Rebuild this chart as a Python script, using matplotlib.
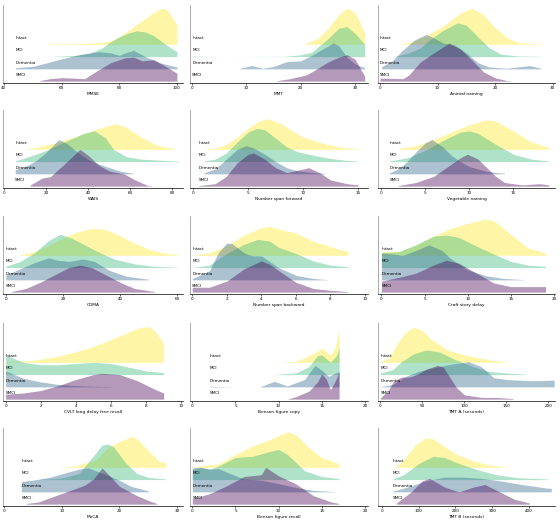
import matplotlib.pyplot as plt

groups = ["Intact", "MCI", "Dementia", "SMCI"]
colors = ["#fde725", "#35b779", "#31688e", "#440154"]

# ridge heights, (score, height) pairs, 1 unit = gap between rows
mmse_intact = [(55, 0.03), (65, 0.05), (72, 0.12), (77, 0.25), (80, 0.6), (83, 1.1), (86, 1.6), (89, 2.1), (92, 2.6), (95, 2.95), (97, 2.7), (100, 1.6)]
mmse_mci = [(57, 0.02), (65, 0.1), (70, 0.3), (74, 0.7), (77, 1.2), (80, 1.6), (83, 1.9), (86, 2.1), (89, 2.0), (92, 1.7), (96, 1.0), (100, 0.4)]
mmse_dem = [(44, 0.1), (50, 0.2), (55, 0.5), (59, 0.75), (66, 1.15), (73, 1.4), (77, 1.3), (80, 1.1), (82, 1.3), (85, 1.5), (89, 1.0), (94, 0.5), (100, 0.15)]
mmse_smci = [(52.5, 0.05), (56, 0.2), (60, 0.28), (64, 0.25), (68, 0.2), (72, 0.8), (77, 1.5), (82, 1.9), (85, 1.95), (88, 1.65), (92, 1.75), (95, 1.35), (100, 0.65)]

mmt_intact = [(20.8, 0.05), (23.2, 0.5), (25, 1.3), (26.9, 2.35), (28.5, 2.95), (30, 2.6), (30.9, 1.8), (31.8, 0.9)]
mmt_mci = [(0, 0.04), (2.5, 0.02), (6, 0.0), (17, 0.02), (20, 0.15), (22, 0.35), (25, 1.45), (27, 2.3), (28.5, 2.45), (30, 1.9), (31.8, 1.0)]
mmt_dem = [(8.8, 0.05), (11, 0.27), (13, 0.05), (15, 0.2), (17.5, 0.6), (20, 0.65), (22, 1.1), (24, 1.6), (26, 2.1), (27, 1.9), (28.5, 0.95), (30, 0.4), (31.8, 0.1)]
mmt_smci = [(15.5, 0.03), (18, 0.2), (21, 0.5), (23, 1.0), (25, 1.55), (27, 1.95), (28.5, 2.15), (30, 1.8), (31, 1.0), (31.8, 0.4)]

animal_intact = [(3.5, 0.02), (5, 0.15), (8, 0.7), (11, 1.5), (14, 2.55), (16, 2.95), (18, 2.4), (20, 1.35), (22, 0.55), (24, 0.15), (28, 0.0)]
animal_mci = [(2.6, 0.02), (5, 0.3), (7, 0.7), (9, 1.5), (11, 2.15), (13.5, 2.75), (15, 2.55), (17, 1.6), (19, 0.7), (21, 0.2), (24, 0.05), (28, 0.02)]
animal_dem = [(0.3, 0.2), (2, 0.6), (4, 1.55), (6, 2.35), (8, 2.8), (9, 2.6), (11, 2.1), (13, 1.95), (15, 1.3), (17, 0.5), (19, 0.15), (22, 0.05), (26, 0.27), (28, 0.05)]
animal_smci = [(0, 0.25), (4, 0.2), (5, 0.5), (7, 1.55), (9, 2.2), (12, 3.1), (14, 2.6), (16, 1.7), (18, 0.75), (20, 0.27), (22, 0.05), (23, 0.0)]

wais_intact = [(10, 0.02), (15, 0.15), (25, 0.55), (35, 1.1), (45, 1.7), (53, 2.1), (58, 1.8), (65, 1.0), (72, 0.37), (82, 0.0)]
wais_mci = [(5.3, 0.05), (10, 0.3), (20, 0.9), (30, 1.7), (38, 2.3), (43, 2.5), (48, 1.95), (52, 1.0), (58, 0.4), (65, 0.2), (83, 0.03)]
wais_dem = [(5.3, 0.35), (10, 0.6), (15, 1.05), (20, 1.75), (26, 2.8), (30, 2.45), (35, 1.75), (40, 1.15), (45, 0.8), (55, 0.23), (61, 0.05)]
wais_smci = [(12.5, 0.1), (18, 0.65), (22, 0.77), (28, 1.7), (33, 2.5), (36, 3.0), (40, 2.5), (45, 1.7), (50, 1.23), (57, 1.0), (62, 0.53), (68, 0.07), (71, 0.0)]

nsf_intact = [(1, 0.02), (2, 0.1), (3, 0.4), (4, 1.0), (5, 1.7), (6, 2.3), (6.8, 2.5), (8, 2.1), (9, 1.5), (10, 1.0), (11, 0.7), (12, 0.45), (13, 0.25), (14, 0.1), (15, 0.05)]
nsf_mci = [(1, 0.05), (2, 0.2), (3, 0.7), (4, 1.6), (5, 2.4), (5.8, 2.7), (6.5, 2.6), (7.5, 1.9), (8.5, 1.2), (9.5, 0.8), (11, 0.5), (12.5, 0.25), (14, 0.1), (15, 0.03)]
nsf_dem = [(1, 0.1), (2, 0.4), (3, 1.2), (4, 2.0), (4.8, 2.3), (5.5, 2.1), (6.5, 1.6), (7.5, 1.0), (8.5, 0.5), (9.5, 0.25), (11, 0.1), (12, 0.05)]
nsf_smci = [(0.5, 0.05), (2, 0.2), (3, 0.8), (4, 1.9), (5, 2.6), (5.5, 2.7), (6.5, 2.2), (7.5, 1.5), (8.5, 1.1), (9.5, 1.3), (10.5, 1.5), (11.5, 1.1), (12.5, 0.5), (14, 0.2), (15, 0.1)]

veg_intact = [(2, 0.05), (4, 0.3), (6, 0.8), (8, 1.4), (10, 2.0), (12, 2.4), (13, 2.3), (15, 1.5), (17, 0.6), (19, 0.15)]
veg_mci = [(1, 0.05), (3, 0.3), (5, 0.9), (7, 1.7), (9, 2.4), (10, 2.5), (11, 2.3), (13, 1.4), (15, 0.6), (17, 0.2), (19, 0.05)]
veg_dem = [(1, 0.1), (2, 0.4), (3, 1.0), (4, 1.8), (5, 2.5), (5.8, 2.8), (7, 2.2), (8, 1.5), (9, 1.0), (10, 0.6), (12, 0.2), (14, 0.05)]
veg_smci = [(2, 0.05), (4, 0.3), (6, 0.8), (7, 1.3), (8, 1.8), (9, 2.3), (9.8, 2.6), (11, 2.2), (12, 1.5), (13, 0.8), (14, 0.3), (16, 0.1), (18, 0.2), (19, 0.1)]

cdma_intact = [(5, 0.05), (10, 0.3), (15, 0.8), (20, 1.4), (25, 1.9), (30, 2.2), (35, 2.1), (40, 1.6), (45, 1.0), (50, 0.5), (55, 0.2), (60, 0.05)]
cdma_mci = [(0, 0.1), (5, 0.5), (10, 1.2), (15, 2.2), (19, 2.7), (23, 2.4), (28, 1.8), (33, 1.2), (38, 0.7), (45, 0.3), (52, 0.1), (60, 0.03)]
cdma_dem = [(0, 0.4), (5, 0.9), (10, 1.4), (15, 1.8), (18, 1.6), (22, 1.5), (27, 1.7), (31, 1.5), (36, 0.8), (42, 0.3), (50, 0.05)]
cdma_smci = [(2, 0.05), (7, 0.3), (12, 0.8), (17, 1.4), (22, 2.0), (26, 2.2), (30, 2.0), (35, 1.4), (40, 0.8), (45, 0.3), (52, 0.05)]

nsb_intact = [(0.15, 0.05), (1, 0.2), (2, 0.8), (3, 1.65), (4, 2.25), (4.5, 2.35), (5, 2.15), (6, 1.8), (7, 1.15), (8, 0.7), (9, 0.3)]
nsb_mci = [(0, 0.0), (1, 0.2), (1.5, 0.7), (2, 1.15), (3, 1.9), (3.8, 2.3), (4.5, 2.15), (5, 1.65), (6, 1.15), (7, 0.55), (8, 0.2), (9, 0.07)]
nsb_dem = [(0, 0.1), (1, 0.75), (1.5, 2.2), (2, 3.0), (2.3, 2.95), (3, 2.2), (3.5, 1.95), (4, 1.95), (5, 1.0), (6, 0.37), (7, 0.12), (7.8, 0.02)]
nsb_smci = [(0, 0.4), (1, 0.4), (2, 0.9), (3, 1.9), (4, 2.55), (4.5, 2.25), (5, 1.75), (6, 0.8), (7, 0.3), (8, 0.15), (9, 0.05)]

craft_intact = [(0, 0.3), (2, 0.3), (4, 0.85), (6, 1.55), (8, 2.2), (10, 2.6), (12, 2.95), (13, 2.8), (15, 1.7), (17, 0.6), (19, 0.2)]
craft_mci = [(0, 1.2), (2, 1.3), (4, 1.85), (6, 2.55), (7.5, 2.65), (9, 2.45), (11, 1.75), (13, 1.1), (15, 0.5), (17, 0.2), (19, 0.1)]
craft_dem = [(0, 2.2), (2.5, 2.0), (4, 2.4), (5.5, 2.85), (7, 2.4), (8, 1.75), (10, 0.8), (12, 0.35), (14, 0.13), (16.5, 0.02)]
craft_smci = [(0, 0.9), (2, 1.2), (4, 1.55), (6, 2.2), (7.5, 2.6), (9, 2.35), (11, 1.55), (13, 0.75), (15, 0.45), (17, 0.45), (19, 0.45)]

cvlt_intact = [(0, 0.05), (1, 0.1), (2, 0.25), (3, 0.5), (4, 0.85), (5, 1.3), (6, 1.85), (7, 2.45), (7.7, 2.85), (8.2, 2.9), (8.6, 2.4), (9, 1.5)]
cvlt_mci = [(0, 1.6), (0.5, 1.3), (1, 1.0), (2, 0.8), (3, 0.8), (4, 0.9), (5, 1.0), (6, 0.9), (7, 0.6), (8, 0.3), (9, 0.15)]
cvlt_dem = [(0, 1.3), (0.5, 1.0), (1, 0.7), (2, 0.4), (3, 0.2), (4, 0.1), (5, 0.05), (6, 0.02)]
cvlt_smci = [(0, 0.4), (1, 0.5), (2, 0.7), (3, 1.1), (4, 1.6), (5, 2.0), (5.5, 2.1), (6.5, 2.0), (7.5, 1.5), (8.5, 0.8), (9, 0.5)]

bcopy_intact = [(10.3, 0.02), (12, 0.08), (14, 0.7), (15, 1.15), (16, 0.6), (16.5, 1.1), (17, 2.65)]
bcopy_mci = [(9.6, 0.02), (12, 0.13), (13.5, 0.65), (14.5, 1.55), (15, 1.6), (16, 1.0), (16.7, 1.55), (17, 2.2)]
bcopy_dem = [(2, 0.05), (3, 0.03), (5, 0.0), (7.8, 0.0), (9.5, 0.45), (11, 0.08), (13, 0.6), (14.2, 1.75), (15, 1.35), (15.8, 0.85), (16.5, 1.1), (17, 1.25)]
bcopy_smci = [(11.1, 0.03), (12, 0.2), (13.5, 0.65), (14.5, 1.4), (15, 2.05), (15.5, 1.65), (16, 0.77), (16.5, 1.4), (17, 2.2)]

tmta_intact = [(0, 0.05), (10, 0.35), (20, 1.5), (30, 2.45), (40, 2.85), (50, 2.6), (60, 1.9), (80, 1.0), (100, 0.6), (130, 0.2), (150, 0.03)]
tmta_mci = [(0, 0.13), (15, 0.4), (25, 1.05), (40, 1.7), (55, 2.0), (70, 1.85), (90, 1.2), (110, 0.65), (130, 0.25), (150, 0.13), (175, 0.02)]
tmta_dem = [(0, 0.02), (15, 0.2), (30, 0.85), (45, 1.25), (60, 1.5), (80, 1.8), (105, 2.05), (120, 1.65), (135, 0.75), (150, 0.6), (165, 0.55), (180, 0.5), (207, 0.55)]
tmta_smci = [(0, 0.1), (10, 0.75), (15, 1.4), (25, 1.8), (35, 1.8), (45, 2.05), (55, 2.45), (68, 2.75), (75, 2.6), (90, 1.0), (100, 0.35), (120, 0.15), (140, 0.13), (158, 0.05)]

moca_intact = [(9.7, 0.02), (12, 0.08), (16, 0.6), (18, 1.6), (20, 2.1), (22, 2.5), (23, 2.35), (25, 1.35), (27, 0.45), (28, 0.38)]
moca_mci = [(6.2, 0.02), (10, 0.13), (13, 0.5), (15, 1.65), (17, 2.8), (18, 2.9), (19, 2.65), (21, 1.4), (23, 0.5), (25, 0.18), (28, 0.05)]
moca_dem = [(3, 0.85), (5, 0.95), (8, 1.2), (11, 1.6), (13, 1.85), (14.5, 1.97), (16, 1.7), (18, 1.35), (20, 0.95), (22, 0.45), (25, 0.08)]
moca_smci = [(3.9, 0.05), (6, 0.18), (9, 0.7), (12, 1.2), (14, 1.55), (15.5, 2.05), (17, 2.95), (18, 2.45), (20, 1.45), (22, 0.95), (23, 0.7), (25, 0.3), (26.5, 0.05)]

brecall_intact = [(0, 0.05), (3, 0.27), (5, 1.05), (7, 1.75), (9, 2.25), (11, 2.9), (12, 2.65), (13.5, 1.6), (15, 0.8), (17, 0.27)]
brecall_mci = [(0, 0.85), (1, 1.0), (2, 0.85), (3, 1.1), (5, 1.8), (7, 1.9), (9, 2.3), (10, 2.45), (11, 2.05), (13, 0.72), (15, 0.25), (17, 0.08)]
brecall_dem = [(0, 1.95), (1, 2.0), (2, 1.85), (3, 1.9), (4, 1.6), (6, 1.05), (8, 0.95), (10, 0.67), (12, 0.35), (14, 0.13), (16.5, 0.02)]
brecall_smci = [(0, 0.45), (2, 0.85), (4, 1.5), (6, 2.25), (8, 2.4), (8.5, 3.0), (10, 2.3), (12, 1.65), (14, 0.7), (16, 0.2), (17, 0.05)]

tmtb_intact = [(40, 0.05), (60, 0.6), (90, 1.8), (120, 2.4), (140, 2.3), (170, 1.7), (200, 1.1), (250, 0.5), (300, 0.15), (330, 0.05)]
tmtb_mci = [(30, 0.05), (60, 0.4), (100, 1.3), (140, 1.9), (170, 1.8), (210, 1.3), (260, 0.8), (310, 0.4), (370, 0.15), (450, 0.05)]
tmtb_dem = [(30, 0.05), (70, 0.4), (120, 0.9), (170, 1.2), (220, 1.2), (270, 1.1), (320, 0.9), (380, 0.6), (450, 0.3), (460, 0.3)]
tmtb_smci = [(40, 0.1), (80, 1.0), (110, 1.9), (130, 2.1), (170, 1.4), (210, 1.0), (250, 1.4), (280, 1.6), (320, 1.0), (360, 0.4), (400, 0.1)]

# panel name, curves, ticks, x limits
panels = [
    ("MMSE", [mmse_intact, mmse_mci, mmse_dem, mmse_smci], [40, 60, 80, 100], (39.7, 102.1)),
    ("MMT", [mmt_intact, mmt_mci, mmt_dem, mmt_smci], [0, 10, 20, 30], (-0.4, 32.4)),
    ("Animal naming", [animal_intact, animal_mci, animal_dem, animal_smci], [0, 10, 20, 30], (-0.35, 30.4)),
    ("WAIS", [wais_intact, wais_mci, wais_dem, wais_smci], [0, 20, 40, 60, 80], (-0.5, 85)),
    ("Number span forward", [nsf_intact, nsf_mci, nsf_dem, nsf_smci], [0, 5, 10, 15], (-0.3, 15.9)),
    ("Vegetable naming", [veg_intact, veg_mci, veg_dem, veg_smci], [0, 5, 10, 15], (-0.3, 19.7)),
    ("CDMA", [cdma_intact, cdma_mci, cdma_dem, cdma_smci], [0, 20, 40, 60], (-1, 62)),
    ("Number span backward", [nsb_intact, nsb_mci, nsb_dem, nsb_smci], [0, 2, 4, 6, 8, 10], (-0.13, 10.17)),
    ("Craft story delay", [craft_intact, craft_mci, craft_dem, craft_smci], [0, 5, 10, 15, 20], (-0.4, 20.1)),
    ("CVLT long delay free recall", [cvlt_intact, cvlt_mci, cvlt_dem, cvlt_smci], [0, 2, 4, 6, 8, 10], (-0.15, 10.1)),
    ("Benson figure copy", [bcopy_intact, bcopy_mci, bcopy_dem, bcopy_smci], [0, 5, 10, 15, 20], (-0.27, 20.35)),
    ("TMT A (seconds)", [tmta_intact, tmta_mci, tmta_dem, tmta_smci], [0, 50, 100, 150, 200], (-2.8, 208)),
    ("MoCA", [moca_intact, moca_mci, moca_dem, moca_smci], [0, 10, 20, 30], (-0.17, 31)),
    ("Benson figure recall", [brecall_intact, brecall_mci, brecall_dem, brecall_smci], [0, 5, 10, 15, 20], (-0.27, 20.35)),
    ("TMT B (seconds)", [tmtb_intact, tmtb_mci, tmtb_dem, tmtb_smci], [0, 100, 200, 300, 400], (-10, 470)),
]

W, H = 560, 521
fig = plt.figure(figsize=(W / 100, H / 100), dpi=100)

col_left = [3, 190, 378]
col_width = [180, 178, 177]
row_top = [5, 110, 216, 323, 428]
ax_h = 78

for k, (name, curves, ticks, xlim) in enumerate(panels):
    r, c = divmod(k, 3)
    ax = fig.add_axes([col_left[c] / W, 1 - (row_top[r] + ax_h) / H, col_width[c] / W, ax_h / H])
    label_x = min(cv[0][0] for cv in curves)
    for i, cv in enumerate(curves):
        off = 3 - i
        xs = [p[0] for p in cv]
        hs = [off + p[1] for p in cv]
        ax.fill_between(xs, off, hs, color=colors[i], alpha=0.4, lw=0)
        ax.text(label_x, off + 0.5, groups[i], fontsize=3, va="center", ha="left")
    ax.set_xlim(*xlim)
    ax.set_ylim(-0.15, 6.2)
    ax.set_xticks(ticks)
    ax.set_yticks([])
    ax.tick_params(axis="x", labelsize=3, length=1.5, width=0.4, pad=1)
    ax.set_xlabel(name, fontsize=3.2, labelpad=1)
    for s in ["top", "right"]:
        ax.spines[s].set_visible(False)
    ax.spines["left"].set_color("#888888")
    ax.spines["left"].set_linewidth(0.5)
    ax.spines["bottom"].set_linewidth(0.5)

fig.savefig("out.png", dpi=100)
